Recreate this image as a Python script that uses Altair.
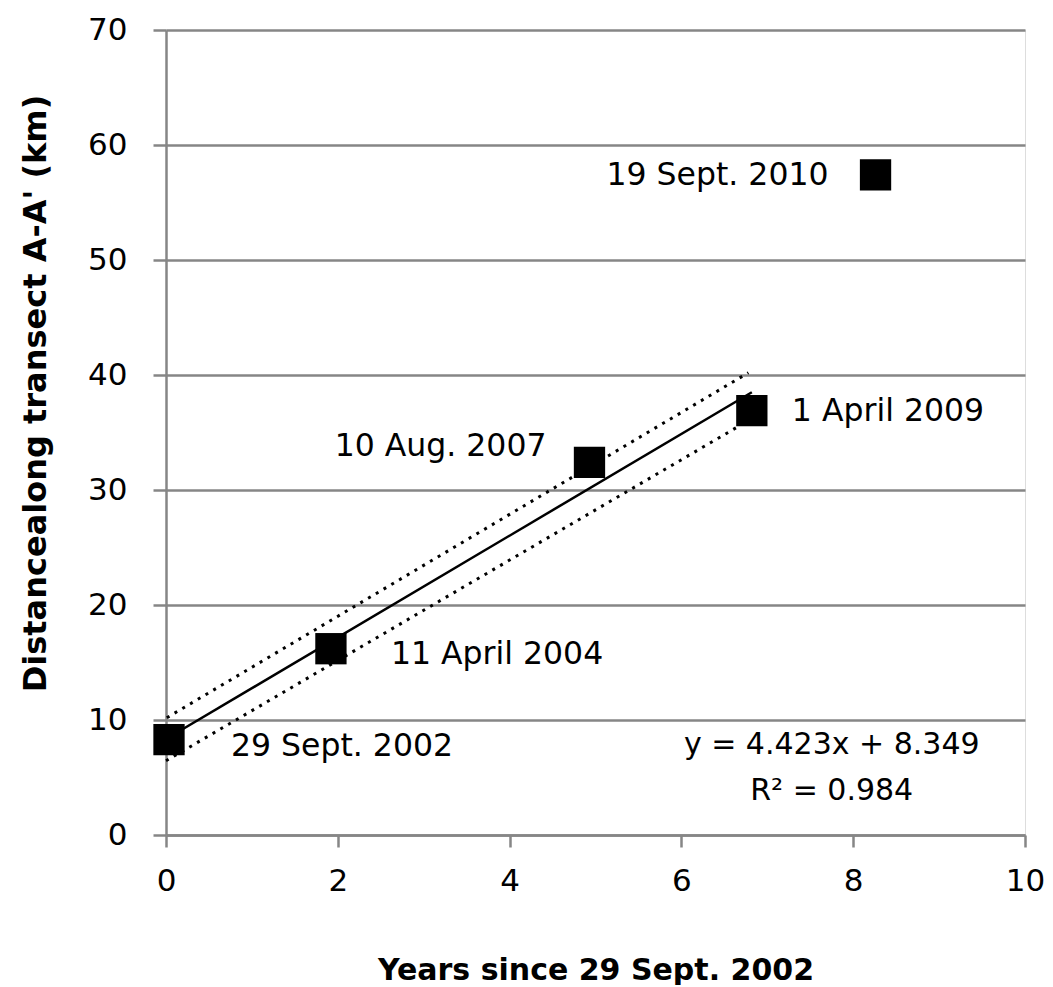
import altair as alt
import pandas as pd

# Observations
years = [0.035, 1.92, 4.93, 6.82, 8.26]
distance = [8.3, 16.2, 32.4, 36.9, 57.4]
dates = ["29 Sept. 2002", "11 April 2004", "10 Aug. 2007", "1 April 2009", "19 Sept. 2010"]

# Linear fit and its bounds (endpoints)
fit_x = [0.035, 6.82]
fit_y = [8.5, 38.5]
upper_x = [0.01, 6.78]
upper_y = [10.2, 40.2]
lower_x = [0.0, 6.68]
lower_y = [6.45, 35.6]

equation_lines = ["y = 4.423x + 8.349", "R² = 0.984"]
equation_x = [7.75, 7.75]
equation_y = [7.8, 3.8]

x_ticks = [0, 2, 4, 6, 8, 10]
y_ticks = [0, 10, 20, 30, 40, 50, 60, 70]

FONT = "DejaVu Sans"
GRID = "#868686"

pts = pd.DataFrame({"x": years, "y": distance, "label": dates, "i": range(len(years))})
fit = pd.DataFrame({"x": fit_x, "y": fit_y})
up = pd.DataFrame({"x": upper_x, "y": upper_y})
lo = pd.DataFrame({"x": lower_x, "y": lower_y})
eq = pd.DataFrame({"x": equation_x, "y": equation_y, "t": equation_lines})

xs = alt.Scale(domain=[0, 10], nice=False, zero=False)
ys = alt.Scale(domain=[0, 70], nice=False, zero=False)

x_axis = alt.Axis(
    values=x_ticks, format="d", grid=False, domainColor=GRID, domainWidth=2.5,
    tickColor=GRID, tickWidth=2.5, tickSize=12, labelFlush=False,
    labelFont=FONT, labelFontSize=31, labelColor="#000000", labelPadding=19,
    title="Years since 29 Sept. 2002", titleFont=FONT, titleFontSize=30,
    titleFontWeight="bold", titleColor="#000000",
    titleY=144, titleBaseline="alphabetic",
)
y_axis = alt.Axis(
    values=y_ticks, format="d", grid=True, gridColor=GRID, gridWidth=2.5,
    domainColor=GRID, domainWidth=2.5, labelFlush=False,
    tickColor=GRID, tickWidth=2.5, tickSize=13,
    labelFont=FONT, labelFontSize=31, labelColor="#000000", labelPadding=26,
    title="Distancealong transect A-A' (km)", titleFont=FONT, titleFontSize=32,
    titleFontWeight="bold", titleColor="#000000",
    titleX=-131, titleY=363, titleBaseline="middle", titleAngle=-90,
)

base_line = alt.Chart(fit).mark_line(color="black", strokeWidth=2.5).encode(
    x=alt.X("x:Q", scale=xs, axis=x_axis),
    y=alt.Y("y:Q", scale=ys, axis=y_axis),
)
upper = alt.Chart(up).mark_line(color="black", strokeWidth=3, strokeDash=[3, 6]).encode(
    x=alt.X("x:Q", scale=xs), y=alt.Y("y:Q", scale=ys)
)
lower = alt.Chart(lo).mark_line(color="black", strokeWidth=3, strokeDash=[3, 6]).encode(
    x=alt.X("x:Q", scale=xs), y=alt.Y("y:Q", scale=ys)
)
points = alt.Chart(pts).mark_point(shape="square", filled=True, color="black", size=980, opacity=1).encode(
    x=alt.X("x:Q", scale=xs), y=alt.Y("y:Q", scale=ys)
)

# label offsets (style) per point
offsets = [(62, 7, "left"), (60, 6, "left"), (-43, -15, "right"), (40, 1, "left"), (-47, 1, "right")]
labels = []
for i, (dx, dy, al) in enumerate(offsets):
    labels.append(
        alt.Chart(pts).transform_filter(alt.datum.i == i).mark_text(
            font=FONT, fontSize=31.5, color="black", align=al, baseline="middle", dx=dx, dy=dy
        ).encode(x=alt.X("x:Q", scale=xs), y=alt.Y("y:Q", scale=ys), text="label:N")
    )

eq_text = alt.Chart(eq).mark_text(
    font=FONT, fontSize=30, color="black", align="center", baseline="middle"
).encode(x=alt.X("x:Q", scale=xs), y=alt.Y("y:Q", scale=ys), text="t:N")

chart = alt.layer(base_line, upper, lower, points, *labels, eq_text).properties(
    width=859, height=805,
    padding={"left": 158, "top": 22, "right": 20, "bottom": 150},
    autosize=alt.AutoSizeParams(type="none"),
).configure_view(stroke=None).configure(background="white")

chart.save("out.html", embed_options={"renderer": "svg", "actions": False})
